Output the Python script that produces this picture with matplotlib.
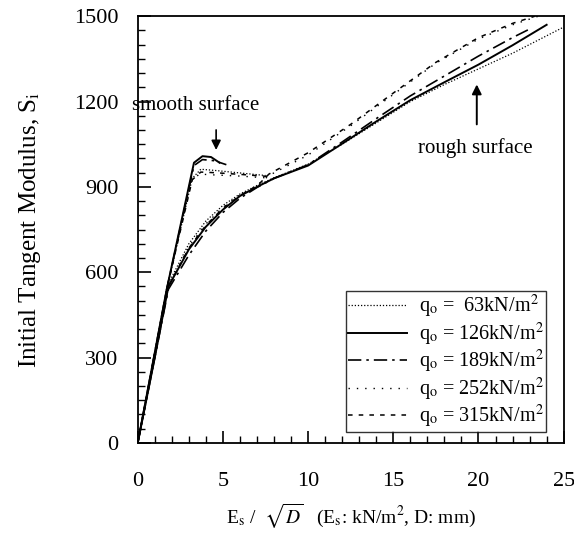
import matplotlib
matplotlib.use('Agg')
import matplotlib.pyplot as plt
from matplotlib.ticker import MultipleLocator

plt.rcParams['font.family'] = ['Liberation Serif', 'DejaVu Serif']
plt.rcParams['mathtext.fontset'] = 'stix'

# q_o values (kN/m2)
loads = [63, 126, 189, 252, 315]

# smooth surface curves
smooth_x = {
    63:  [0, 1.7, 3.2, 3.7, 4.5, 5.5, 6.5, 7.5],
    126: [0, 1.7, 3.3, 3.8, 4.3, 4.8],
    189: [0, 1.7, 3.3, 3.8, 4.5, 5.2],
    252: [0, 1.7, 3.1, 3.6, 4.5, 6.0, 7.5],
    315: [0, 1.7, 3.2, 3.7, 4.5, 6.0, 7.8],
}
smooth_y = {
    63:  [0, 540, 930, 962, 958, 952, 946, 940],
    126: [0, 540, 985, 1008, 1005, 985],
    189: [0, 540, 975, 996, 992, 978],
    252: [0, 540, 915, 945, 942, 938, 932],
    315: [0, 540, 925, 952, 950, 944, 936],
}

# rough surface curves
rough_x = {
    63:  [0, 1, 1.8, 3, 4, 5, 6, 7, 8, 10, 12, 14, 16, 18, 20, 22, 25],
    126: [0, 1, 1.8, 3, 4, 5, 6, 7, 8, 10, 12, 14, 16, 18, 20, 22, 24],
    189: [0, 1, 1.8, 3, 4, 5, 6, 7, 8, 10, 12, 14, 16, 18, 20, 22, 23],
    252: [0, 1, 1.8, 3, 4, 5, 6, 7, 7.7, 10, 12.5, 15, 17.5, 20, 22, 23.5],
    315: [0, 1, 1.8, 3, 4, 5, 6, 7, 7.7, 10, 12.5, 15, 17.5, 20, 22, 23.3],
}
rough_y = {
    63:  [0, 300, 560, 700, 780, 835, 875, 905, 932, 980, 1050, 1125, 1200, 1260, 1315, 1370, 1462],
    126: [0, 300, 550, 680, 760, 820, 868, 900, 930, 975, 1052, 1130, 1205, 1268, 1330, 1398, 1470],
    189: [0, 300, 540, 660, 745, 810, 860, 898, 930, 978, 1058, 1140, 1220, 1290, 1360, 1425, 1455],
    252: [0, 300, 550, 690, 770, 828, 872, 905, 940, 1012, 1115, 1225, 1335, 1420, 1470, 1500],
    315: [0, 300, 550, 685, 765, 825, 870, 903, 945, 1020, 1120, 1230, 1338, 1425, 1475, 1500],
}

labels = ['q$_\\mathrm{o}$ =  63kN/m$^2$', 'q$_\\mathrm{o}$ = 126kN/m$^2$',
          'q$_\\mathrm{o}$ = 189kN/m$^2$', 'q$_\\mathrm{o}$ = 252kN/m$^2$',
          'q$_\\mathrm{o}$ = 315kN/m$^2$']
styles = {
    63:  dict(linestyle=(0, (1, 1.5)), linewidth=0.9),
    126: dict(linestyle='-', linewidth=1.4),
    189: dict(linestyle=(0, (8, 3, 1.5, 3)), linewidth=1.2),
    252: dict(linestyle=(0, (1, 5)), linewidth=1.0),
    315: dict(linestyle=(0, (3, 4)), linewidth=1.1),
}

fig = plt.figure(figsize=(5.74, 5.42), dpi=100)
ax = fig.add_axes([0.240, 0.183, 0.742, 0.787])

for q, lab in zip(loads, labels):
    ax.plot(rough_x[q], rough_y[q], color='black', label=lab, **styles[q])
    ax.plot(smooth_x[q], smooth_y[q], color='black', **styles[q])

ax.set_xlim(0, 25)
ax.set_ylim(0, 1500)
ax.xaxis.set_major_locator(MultipleLocator(5))
ax.xaxis.set_minor_locator(MultipleLocator(1))
ax.yaxis.set_major_locator(MultipleLocator(300))
ax.yaxis.set_minor_locator(MultipleLocator(50))
ax.tick_params(which='both', direction='in', top=False, right=False, labelsize=16)
ax.tick_params(which='major', length=9, width=1.2)
ax.tick_params(axis='y', which='major', pad=14)
ax.tick_params(axis='x', which='major', pad=21)
ax.tick_params(which='minor', length=5, width=1.0)
for s in ax.spines.values():
    s.set_linewidth(1.3)

ax.set_xlabel('E$_\\mathrm{s}$ /  $\\sqrt{D}$   (E$_\\mathrm{s}$: kN/m$^2$, D: mm)', fontsize=14, labelpad=8)
ax.set_ylabel('Initial Tangent Modulus, S$_\\mathrm{i}$', fontsize=18, labelpad=22)

ax.annotate('', xy=(4.6, 1020), xytext=(4.6, 1110),
            arrowprops=dict(arrowstyle='-|>', color='black', lw=1.2, mutation_scale=14))
ax.text(3.4, 1185, 'smooth surface', fontsize=15, ha='center', va='center')
ax.annotate('', xy=(19.9, 1270), xytext=(19.9, 1110),
            arrowprops=dict(arrowstyle='-|>', color='black', lw=1.4, mutation_scale=14))
ax.text(19.8, 1035, 'rough surface', fontsize=15, ha='center', va='center')

leg = ax.legend(loc='lower right', fontsize=14.5, handlelength=2.9, frameon=True,
                fancybox=False, edgecolor='black', borderpad=0.1, labelspacing=0.02,
                handletextpad=0.6, borderaxespad=0, bbox_to_anchor=(0.958, 0.025))
leg.get_frame().set_linewidth(1.0)

fig.savefig('out.png', dpi=100)
